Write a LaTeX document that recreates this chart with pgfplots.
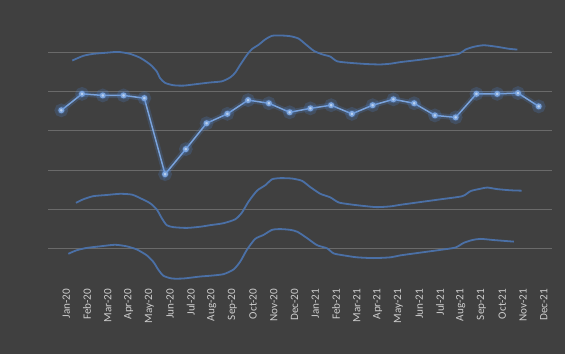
\documentclass[border=0pt]{standalone}
\usepackage{pgfplots}
\pgfplotsset{compat=1.18}
\usepackage{fontspec}
\setmainfont{Carlito}
\definecolor{bg}{HTML}{404040}
\definecolor{gridc}{HTML}{6A6A6A}
\definecolor{curve}{HTML}{4B70A6}
\definecolor{mainl}{HTML}{7AA3DC}
\definecolor{glow}{HTML}{4F86D6}
\definecolor{markc}{HTML}{B8D0F0}
\definecolor{labc}{HTML}{CDCDCD}
\begin{document}
\begin{tikzpicture}
\fill[bg] (0,0) rectangle (565pt,354pt);
\begin{axis}[
  at={(48pt,66.5pt)}, anchor=south west,
  scale only axis, width=504pt, height=274.4pt,
  xmin=-0.64, xmax=23.64, ymin=0, ymax=7,
  axis line style={draw=none},
  major tick length=0pt,
  ytick={1,2,3,4,5,6}, yticklabels={},
  ymajorgrids, grid style={gridc, line width=0.8pt},
  xtick={0,...,23},
  xticklabels={Jan-20,Feb-20,Mar-20,Apr-20,May-20,Jun-20,Jul-20,Aug-20,Sep-20,Oct-20,Nov-20,Dec-20,Jan-21,Feb-21,Mar-21,Apr-21,May-21,Jun-21,Jul-21,Aug-21,Sep-21,Oct-21,Nov-21,Dec-21},
  xticklabel style={rotate=90, anchor=east, font=\fontsize{11.2}{13}\selectfont, text=labc, inner sep=1pt, yshift=-5pt},
  clip=false,
]
% top curve
\addplot[curve, line width=1.8pt, smooth, tension=0.4, no marks] coordinates {
(0.53,5.79)(1.06,5.91)(1.54,5.96)(2.19,5.99)(2.75,6.01)(3.31,5.96)(3.80,5.86)(4.28,5.69)(4.60,5.51)(4.76,5.34)(5.00,5.22)(5.40,5.16)(5.89,5.15)(6.53,5.19)(7.17,5.23)(7.74,5.26)(8.14,5.36)(8.38,5.48)(8.62,5.68)(8.94,5.93)(9.18,6.08)(9.50,6.19)(9.83,6.33)(10.15,6.42)(10.55,6.43)(11.04,6.41)(11.43,6.35)(11.76,6.21)(12.16,6.04)(12.56,5.95)(12.96,5.89)(13.29,5.77)(13.93,5.73)(14.73,5.70)(15.37,5.69)(15.86,5.71)(16.34,5.75)(17.30,5.81)(18.27,5.88)(19.15,5.96)(19.47,6.07)(19.87,6.14)(20.36,6.18)(21.00,6.14)(21.56,6.09)(21.97,6.07)
};
% middle curve
\addplot[curve, line width=1.8pt, smooth, tension=0.4, no marks] coordinates {
(0.71,2.16)(1.06,2.25)(1.54,2.33)(2.19,2.36)(2.83,2.39)(3.40,2.37)(3.80,2.28)(4.28,2.15)(4.60,1.99)(4.84,1.77)(5.08,1.59)(5.40,1.54)(6.05,1.52)(6.69,1.55)(7.17,1.59)(7.81,1.64)(8.38,1.74)(8.70,1.91)(9.02,2.19)(9.43,2.47)(9.83,2.61)(10.15,2.76)(10.55,2.79)(11.11,2.78)(11.60,2.72)(12.00,2.56)(12.48,2.39)(12.96,2.30)(13.36,2.17)(13.93,2.12)(14.57,2.08)(15.21,2.05)(15.86,2.07)(16.34,2.11)(17.30,2.18)(18.27,2.25)(19.32,2.33)(19.72,2.46)(20.20,2.52)(20.52,2.55)(21.00,2.51)(21.64,2.48)(22.18,2.47)
};
% bottom curve
\addplot[curve, line width=1.8pt, smooth, tension=0.4, no marks] coordinates {
(0.34,0.86)(0.74,0.95)(1.23,1.01)(1.87,1.05)(2.59,1.09)(3.15,1.05)(3.64,0.97)(4.12,0.82)(4.44,0.65)(4.68,0.45)(4.92,0.30)(5.33,0.23)(5.89,0.23)(6.69,0.28)(7.17,0.30)(7.81,0.34)(8.30,0.46)(8.62,0.66)(8.94,0.96)(9.34,1.24)(9.74,1.34)(10.15,1.47)(10.55,1.49)(11.04,1.47)(11.38,1.42)(11.84,1.26)(12.32,1.08)(12.80,1.00)(13.12,0.87)(13.60,0.82)(14.25,0.77)(15.05,0.75)(15.86,0.77)(16.34,0.82)(17.30,0.89)(18.27,0.96)(18.99,1.02)(19.39,1.14)(19.80,1.21)(20.20,1.24)(20.84,1.21)(21.32,1.19)(21.80,1.17)
};
% main series glow
\addplot[glow, opacity=0.22, line width=5.5pt, mark=*, mark size=4pt, mark options={fill=glow, draw=none}] coordinates {
(0,4.52)(1,4.94)(2,4.90)(3,4.90)(4,4.83)(5,2.89)(6,3.53)(7,4.19)(8,4.43)(9,4.78)(10,4.70)(11,4.47)(12,4.57)(13,4.65)(14,4.43)(15,4.65)(16,4.80)(17,4.70)(18,4.39)(19,4.34)(20,4.94)(21,4.94)(22,4.96)(23,4.62)
};
% main series
\addplot[mainl, line width=1.5pt, mark=*, mark size=2.2pt, mark options={fill=markc, draw=none}] coordinates {
(0,4.52)(1,4.94)(2,4.90)(3,4.90)(4,4.83)(5,2.89)(6,3.53)(7,4.19)(8,4.43)(9,4.78)(10,4.70)(11,4.47)(12,4.57)(13,4.65)(14,4.43)(15,4.65)(16,4.80)(17,4.70)(18,4.39)(19,4.34)(20,4.94)(21,4.94)(22,4.96)(23,4.62)
};
\end{axis}
\end{tikzpicture}
\end{document}
